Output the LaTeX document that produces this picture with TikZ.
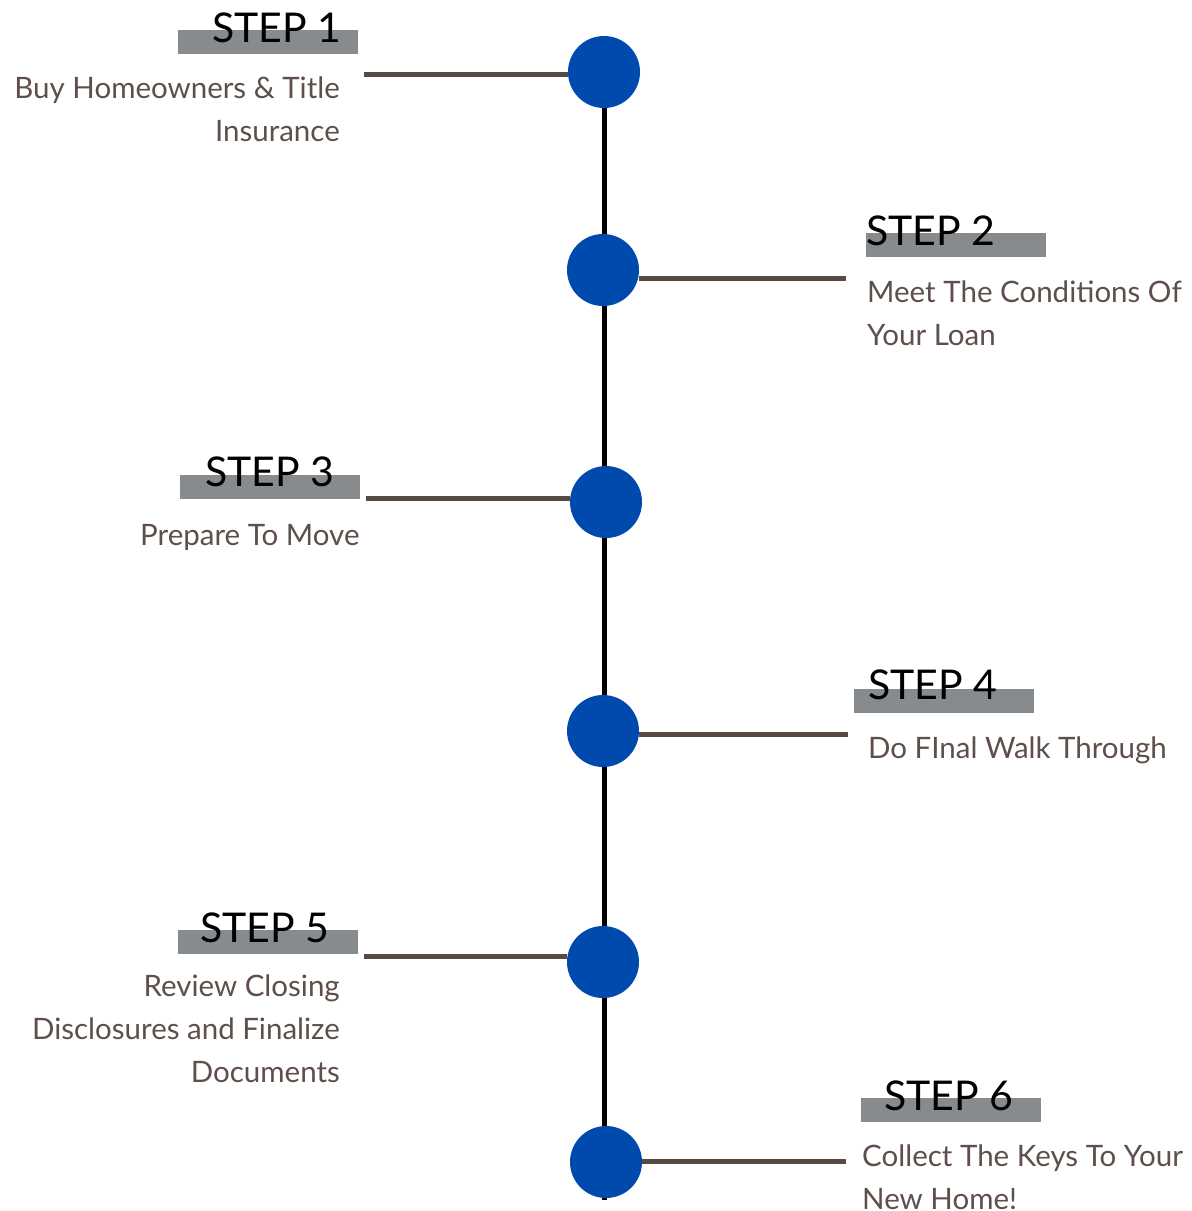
\documentclass[tikz,border=0pt]{standalone}
\usepackage{fontspec}
\setmainfont{Lato}
\newfontfamily\stepfont{Lato}
\usetikzlibrary{positioning}
\definecolor{dotblue}{HTML}{004AAD}
\definecolor{bargray}{HTML}{878B8D}
\definecolor{linkbrown}{HTML}{574944}
\definecolor{textbrown}{HTML}{5E4F4B}

\begin{document}
\begin{tikzpicture}[x=1pt, y=-1pt,
    dot/.style={circle, fill=dotblue, minimum size=72pt, inner sep=0pt},
    bar/.style={fill=bargray, minimum width=180pt, minimum height=24pt, inner sep=0pt, anchor=north west},
    steptext/.style={font=\stepfont\fontsize{41}{41}\selectfont, inner sep=0pt, anchor=base west},
    desc/.style={font=\fontsize{29.5}{43}\selectfont, text=textbrown, inner sep=0pt},
    link/.style={draw=linkbrown, line width=5pt},
    spine/.style={draw=black, line width=5pt}]
    \useasboundingbox (0,0) rectangle (1192,1211);

    % Spine
    \coordinate (top) at (604,72);
    \coordinate (bottom) at (604,1200);
    \draw[spine] (top) -- (bottom);

    % Dots
    \node[dot] (c1) at (604,72) {};
    \node[dot] (c2) at (603,270) {};
    \node[dot] (c3) at (606,502) {};
    \node[dot] (c4) at (603,731) {};
    \node[dot] (c5) at (603,962) {};
    \node[dot] (c6) at (606,1162) {};

    % Step 1
    \coordinate (e1) at (364,74.5);
    \draw[link] (e1) -- (e1 -| c1.west);
    \node[bar] (b1) at (178,30) {};
    \node[steptext] (t1) at (212,42) {STEP 1};
    \node[desc, anchor=base east, align=right] (d1) at (340,141) {Buy Homeowners \& Title\\Insurance};

    % Step 2
    \coordinate (e2) at (846,278.5);
    \draw[link] (c2.east |- e2) -- (e2);
    \node[bar] (b2) at (866,233) {};
    \node[steptext] (t2) at (866,245) {STEP 2};
    \node[desc, anchor=base west, align=left] (d2) at (867,345) {Meet The Conditions Of\\Your Loan};

    % Step 3
    \coordinate (e3) at (366,498);
    \draw[link] (e3) -- (e3 -| c3.west);
    \node[bar] (b3) at (180,475) {};
    \node[steptext] (t3) at (205,486) {STEP 3};
    \node[desc, anchor=base west] (d3) at (140,545) {Prepare To Move};

    % Step 4
    \coordinate (e4) at (848,734.5);
    \draw[link] (c4.east |- e4) -- (e4);
    \node[bar] (b4) at (854,689) {};
    \node[steptext] (t4) at (868,699) {STEP 4};
    \node[desc, anchor=base west] (d4) at (868,758) {Do FInal Walk Through};

    % Step 5
    \coordinate (e5) at (364,956);
    \draw[link] (e5) -- (e5 -| c5.west);
    \node[bar] (b5) at (178,930) {};
    \node[steptext] (t5) at (200,942) {STEP 5};
    \node[desc, anchor=base east, align=right] (d5) at (340,1082) {Review Closing\\Disclosures and Finalize\\Documents};

    % Step 6
    \coordinate (e6) at (846,1161);
    \draw[link] (c6.east |- e6) -- (e6);
    \node[bar] (b6) at (861,1098) {};
    \node[steptext] (t6) at (884,1110) {STEP 6};
    \node[desc, anchor=base west, align=left] (d6) at (862,1209) {Collect The Keys To Your\\New Home!};
\end{tikzpicture}
\end{document}
